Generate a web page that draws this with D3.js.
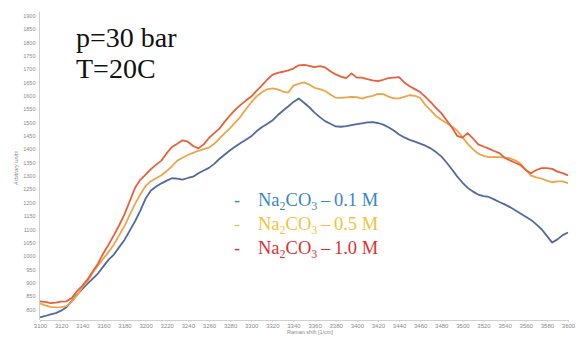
<!DOCTYPE html>
<html>
<head>
<meta charset="utf-8">
<script src="https://cdn.jsdelivr.net/npm/d3@7/dist/d3.min.js"></script>
<style>
  html, body { margin: 0; padding: 0; background: #fff; }
  svg { display: block; }
</style>
</head>
<body>
<svg id="chart" width="578" height="342"></svg>
<script>
// Raman shift grid (1/cm), 5 cm^-1 step
const shift = d3.range(3100, 3601, 5);

// Intensity (arbitrary units) per concentration
const na01 = [770,775,781,786,795,808,830,855,876,896,915,935,961,986,1005,1033,1060,1095,1130,1170,
  1215,1245,1260,1272,1282,1291,1290,1286,1292,1297,1310,1320,1330,1345,1364,1380,1396,1410,1423,1435,
  1448,1467,1482,1494,1507,1527,1544,1560,1577,1590,1574,1557,1537,1520,1505,1495,1485,1484,1486,1490,
  1494,1497,1500,1501,1498,1492,1482,1470,1455,1444,1435,1428,1421,1413,1403,1389,1373,1350,1325,1298,
  1275,1255,1241,1230,1224,1221,1212,1202,1193,1183,1171,1159,1147,1135,1118,1100,1075,1050,1062,1078,1088];

const na05 = [822,815,809,807,808,812,828,852,883,905,938,964,990,1015,1043,1078,1112,1155,1195,1230,
  1262,1280,1291,1302,1318,1336,1357,1368,1378,1386,1394,1400,1406,1420,1440,1460,1479,1500,1522,1550,
  1575,1597,1613,1624,1628,1624,1616,1612,1638,1645,1650,1642,1630,1625,1618,1605,1593,1592,1594,1596,
  1595,1589,1596,1600,1607,1606,1597,1590,1590,1596,1602,1600,1592,1565,1545,1524,1510,1498,1485,1470,
  1445,1420,1400,1383,1375,1370,1371,1370,1368,1366,1358,1346,1322,1301,1294,1290,1282,1276,1279,1279,1273];

const na10 = [830,828,823,825,829,830,842,868,888,912,943,972,1010,1043,1078,1115,1156,1205,1255,1285,
  1305,1325,1342,1357,1385,1408,1420,1433,1428,1412,1403,1418,1442,1460,1478,1503,1527,1548,1566,1582,
  1597,1618,1638,1660,1678,1686,1690,1695,1702,1714,1716,1712,1707,1711,1706,1692,1680,1672,1666,1684,
  1668,1668,1662,1658,1655,1660,1666,1668,1670,1650,1636,1625,1614,1596,1576,1555,1535,1508,1482,1450,
  1443,1460,1440,1418,1410,1402,1393,1385,1368,1358,1349,1340,1322,1310,1322,1329,1329,1326,1316,1310,1302];

const seriesNames = ["0.1 M", "0.5 M", "1.0 M"];
const lineColors = ["#51699f", "#eea54a", "#e8603a"];
const legendColors = ["#3a85c8", "#f3c23c", "#e0302c"];

const xTicks = d3.range(3100, 3601, 20);
const yTicks = d3.range(800, 1901, 50);

const sans = "'Liberation Sans', Arial, sans-serif";
const serif = "'Liberation Serif', 'Times New Roman', serif";

const svg = d3.select("#chart");

const x = d3.scaleLinear().domain([3100, 3600]).range([40, 568]);
const y = d3.scaleLinear().domain([760, 1900]).range([320, 15.7]);

// axes
const xAxis = d3.axisBottom(x).tickValues(xTicks).tickFormat(d3.format("d"))
  .tickSize(2).tickPadding(2);
const gx = svg.append("g").attr("transform", "translate(0,320)").call(xAxis);
gx.select(".domain").attr("stroke", "#d0d0d0");
gx.selectAll(".tick line").attr("stroke", "#d0d0d0");
gx.selectAll(".tick text").attr("fill", "#8a8a8a").attr("font-size", 6)
  .attr("font-family", sans);

const yAxis = d3.axisLeft(y).tickValues(yTicks).tickFormat(d3.format("d"))
  .tickSize(0).tickPadding(4);
const gy = svg.append("g").attr("transform", "translate(39.5,0)").call(yAxis);
gy.select(".domain").attr("stroke", "#d0d0d0").attr("d", `M0,${y(1900) - 4}V320`);
gy.selectAll(".tick text").attr("fill", "#8a8a8a").attr("font-size", 5.5)
  .attr("font-family", sans);

// axis titles
svg.append("text").attr("x", 310).attr("y", 334).attr("text-anchor", "middle")
  .attr("fill", "#8a8a8a").attr("font-size", 5.5).attr("font-family", sans)
  .text("Raman shift [1/cm]");
svg.append("text").attr("transform", "translate(18,168) rotate(-90)")
  .attr("text-anchor", "middle").attr("fill", "#8a8a8a").attr("font-size", 5.5)
  .attr("font-style", "italic").attr("font-family", sans)
  .text("Arbitrary units");

// spectra
const line = d3.line().x((d, i) => x(shift[i])).y(d => y(d));
[na01, na05, na10].forEach((s, i) => {
  svg.append("path").datum(s).attr("d", line)
    .attr("fill", "none").attr("stroke", lineColors[i])
    .attr("stroke-width", 1.8).attr("stroke-linejoin", "round");
});

// conditions
svg.append("text").attr("x", 76).attr("y", 47).attr("font-family", serif)
  .attr("font-size", 28).attr("fill", "#111").text("p=30 bar");
svg.append("text").attr("x", 76).attr("y", 78).attr("font-family", serif)
  .attr("font-size", 28).attr("fill", "#111").text("T=20C");

// legend
const leg = svg.append("g");
seriesNames.forEach((name, i) => {
  const yy = 206 + i * 24;
  leg.append("text").attr("x", 234).attr("y", yy).attr("font-family", serif)
    .attr("font-size", 18).attr("fill", legendColors[i]).text("-");
  const t = leg.append("text").attr("x", 258).attr("y", yy).attr("font-family", serif)
    .attr("font-size", 18.5).attr("fill", legendColors[i]);
  t.append("tspan").text("Na");
  t.append("tspan").attr("font-size", 12).attr("dy", 4).text("2");
  t.append("tspan").attr("dy", -4).text("CO");
  t.append("tspan").attr("font-size", 12).attr("dy", 4).text("3");
  t.append("tspan").attr("dy", -4).text("\u2009\u2013\u2009" + name);
});
</script>
</body>
</html>
